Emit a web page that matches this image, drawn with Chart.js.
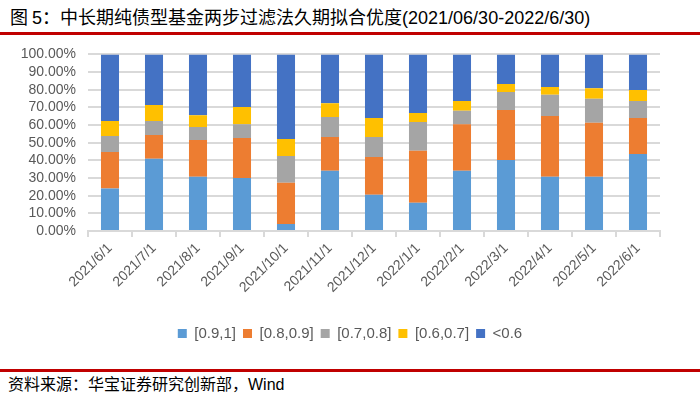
<!DOCTYPE html>
<html>
<head>
<meta charset="utf-8">
<script src="https://cdn.jsdelivr.net/npm/chart.js@4/dist/chart.umd.min.js"></script>
<style>
  html, body { margin: 0; padding: 0; background: #fff; }
  body { width: 700px; height: 396px; position: relative; overflow: hidden; }
  .title { position: absolute; left: 10px; top: 4px; font: 18px "Noto Sans CJK SC", "Liberation Sans", sans-serif; line-height: 24px; color: #000; white-space: nowrap; }
  .title .num { font-family: "Liberation Sans", Arial, sans-serif; }
  .rule { position: absolute; left: 0; width: 700px; height: 3px; background: #c00000; }
  .source { position: absolute; left: 8px; top: 372px; font: 16px "Noto Sans CJK SC", sans-serif; line-height: 22px; color: #000; white-space: nowrap; }
  .source .num { font-family: "Liberation Sans", Arial, sans-serif; }
  #wrap { position: absolute; left: 0; top: 34px; width: 700px; height: 317px; }
</style>
</head>
<body>
<div class="title">图 <span class="num">5</span>：中长期纯债型基金两步过滤法久期拟合优度<span class="num">(2021/06/30-2022/6/30)</span></div>
<div class="rule" style="top:32px"></div>
<div id="wrap"><canvas id="chart"></canvas></div>
<div class="rule" style="top:369px"></div>
<div class="source">资料来源：华宝证券研究创新部，<span class="num">Wind</span></div>
<script>
const categories = ['2021/6/1', '2021/7/1', '2021/8/1', '2021/9/1', '2021/10/1', '2021/11/1', '2021/12/1',
  '2022/1/1', '2022/2/1', '2022/3/1', '2022/4/1', '2022/5/1', '2022/6/1'];
const seriesNames = ['[0.9,1]', '[0.8,0.9]', '[0.7,0.8]', '[0.6,0.7]', '<0.6'];
const s09 = [24.0, 40.9, 30.7, 30.0, 4.0, 34.1, 20.5, 16.0, 34.1, 40.2, 30.7, 30.7, 43.6];
const s08 = [20.7, 13.4, 20.8, 22.6, 23.3, 19.1, 21.4, 29.4, 26.4, 28.3, 34.4, 30.6, 20.4];
const s07 = [9.1, 8.0, 7.4, 7.9, 15.1, 11.3, 11.3, 16.3, 7.6, 10.2, 12.0, 13.6, 9.6];
const s06 = [8.5, 9.0, 6.7, 9.7, 9.7, 7.9, 10.8, 5.1, 5.5, 4.5, 4.4, 6.0, 6.2];
const sLow = [37.7, 28.7, 34.4, 29.8, 47.9, 27.6, 36.0, 33.2, 26.4, 16.8, 18.5, 19.1, 20.2];
const colors = ['#5b9bd5', '#ed7d31', '#a5a5a5', '#ffc000', '#4472c4'];

function renderChart() {
  const ctx = document.getElementById('chart');
  const values = [s09, s08, s07, s06, sLow];
  new Chart(ctx, {
    type: 'bar',
    data: {
      labels: categories,
      datasets: values.map((v, i) => ({
        label: seriesNames[i],
        data: v.map((x) => x / 100),
        backgroundColor: colors[i],
        barPercentage: 0.41,
        categoryPercentage: 1,
      })),
    },
    options: {
      responsive: true,
      maintainAspectRatio: false,
      animation: false,
      layout: { padding: { left: 0, right: 0, top: 3, bottom: 0 } },
      plugins: {
        tooltip: { enabled: false },
        legend: {
          position: 'bottom',
          labels: {
            boxWidth: 9, boxHeight: 9, padding: 7, color: '#595959',
            font: { family: 'Liberation Sans, Arial, sans-serif', size: 15 },
          },
        },
      },
      scales: {
        x: {
          stacked: true,
          afterFit: (scale) => { scale.height = 88; },
          grid: { display: true, drawOnChartArea: false, color: '#d9d9d9', lineWidth: 2, tickLength: 6 },
          border: { color: '#d9d9d9', width: 2 },
          ticks: {
            minRotation: 45, maxRotation: 45, color: '#595959',
            font: { family: 'Liberation Sans, Arial, sans-serif', size: 14 },
          },
        },
        y: {
          stacked: true,
          min: 0, max: 1,
          afterFit: (scale) => { scale.width = 88; },
          grid: { color: '#d9d9d9', lineWidth: 2, drawTicks: false },
          border: { display: false },
          ticks: {
            stepSize: 0.1, autoSkip: false, padding: 12, color: '#595959',
            font: { family: 'Liberation Sans, Arial, sans-serif', size: 14 },
            callback: (v) => (v * 100).toFixed(2) + '%',
          },
        },
        // empty right-hand gutter so the plot ends where the reference does
        gutter: {
          position: 'right',
          min: 0, max: 1,
          afterFit: (scale) => { scale.width = 40; },
          grid: { display: false },
          border: { display: false },
          ticks: { display: false },
        },
      },
    },
  });
}

document.addEventListener('DOMContentLoaded', renderChart);
</script>
</body>
</html>
